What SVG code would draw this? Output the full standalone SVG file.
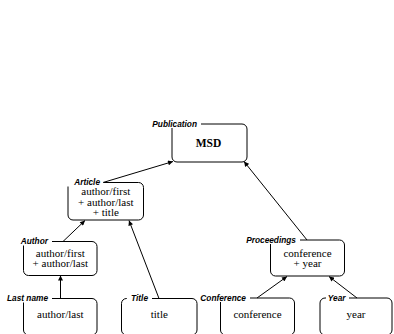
<svg xmlns="http://www.w3.org/2000/svg" width="394" height="334" viewBox="0 0 394 334">
<style>
.box{fill:none;stroke:#000;stroke-width:1}
.lbl{font-family:"Liberation Sans",Arial,sans-serif;font-weight:bold;font-style:italic;font-size:8.3px;text-anchor:end;fill:#000}
.txt{font-family:"Liberation Serif","Times New Roman",serif;font-size:11px;text-anchor:middle;fill:#000}
.bold{font-weight:bold;font-size:11.5px}
.edge{stroke:#000;stroke-width:1;fill:none;marker-end:url(#ah)}
</style>
<defs>
<marker id="ah" viewBox="0 0 10 10" refX="10" refY="5" markerWidth="6" markerHeight="5" markerUnits="userSpaceOnUse" orient="auto">
<path d="M0,0 L10,5 L0,10 z" fill="#000"/>
</marker>
</defs>
<rect width="394" height="334" fill="#fff"/>
<g id="connectors">
<line class="edge" x1="103" y1="182.5" x2="173" y2="161.5"/>
<line class="edge" x1="307" y1="240" x2="244" y2="161.5"/>
<line class="edge" x1="63" y1="241.5" x2="85" y2="220.5"/>
<line class="edge" x1="159" y1="298.5" x2="129" y2="220.5"/>
<line class="edge" x1="60.5" y1="298.5" x2="60.5" y2="275.5"/>
<line class="edge" x1="257" y1="298" x2="287" y2="276.5"/>
<line class="edge" x1="357" y1="298" x2="329" y2="276.5"/>
</g>
<g id="publication">
<path class="box" d="M201,124 H242 A5,5 0 0 1 247,129 V157 A5,5 0 0 1 242,162 H177 A5,5 0 0 1 172,157 V128"/>
<text class="lbl" x="197" y="126.8">Publication</text>
<text class="txt bold" x="208.5" y="147">MSD</text>
</g>
<g id="article">
<path class="box" d="M104,182.5 H138.5 A5,5 0 0 1 143.5,187.5 V215 A5,5 0 0 1 138.5,220 H73 A5,5 0 0 1 68,215 V186.5"/>
<text class="lbl" x="100" y="184.6">Article</text>
<text class="txt" x="105.8" y="195.3">author/first</text>
<text class="txt" x="105.8" y="205.8">+ author/last</text>
<text class="txt" x="105.8" y="216.3">+ title</text>
</g>
<g id="author">
<path class="box" d="M52,241.5 H92 A5,5 0 0 1 97,246.5 V270.5 A5,5 0 0 1 92,275.5 H28.5 A5,5 0 0 1 23.5,270.5 V245.5"/>
<text class="lbl" x="48" y="244.3">Author</text>
<text class="txt" x="60.3" y="256.5">author/first</text>
<text class="txt" x="60.3" y="267">+ author/last</text>
</g>
<g id="lastname">
<path class="box" d="M52,298.5 H92 A5,5 0 0 1 97,303.5 V330 A5,5 0 0 1 92,335 H28.5 A5,5 0 0 1 23.5,330 V302.5"/>
<text class="lbl" x="48" y="301.3">Last name</text>
<text class="txt" x="60.3" y="318">author/last</text>
</g>
<g id="title">
<path class="box" d="M152,298.5 H192 A5,5 0 0 1 197,303.5 V330 A5,5 0 0 1 192,335 H126.5 A5,5 0 0 1 121.5,330 V303.5 A5,5 0 0 1 126.5,298.5 H127"/>
<text class="lbl" x="148" y="301.3">Title</text>
<text class="txt" x="159.3" y="317.5">title</text>
</g>
<g id="proceedings">
<path class="box" d="M300,240 H339.5 A5,5 0 0 1 344.5,245 V271 A5,5 0 0 1 339.5,276 H275.5 A5,5 0 0 1 270.5,271 V244"/>
<text class="lbl" x="296" y="242.8">Proceedings</text>
<text class="txt" x="307.5" y="256.5">conference</text>
<text class="txt" x="307.5" y="267">+ year</text>
</g>
<g id="conference">
<path class="box" d="M250,298 H289.5 A5,5 0 0 1 294.5,303 V330 A5,5 0 0 1 289.5,335 H225.5 A5,5 0 0 1 220.5,330 V302"/>
<text class="lbl" x="246" y="300.8">Conference</text>
<text class="txt" x="257.5" y="317.5">conference</text>
</g>
<g id="year">
<path class="box" d="M349,298 H387 A5,5 0 0 1 392,303 V330 A5,5 0 0 1 387,335 H325 A5,5 0 0 1 320,330 V303 A5,5 0 0 1 325,298 H326"/>
<text class="lbl" x="345.5" y="300.8">Year</text>
<text class="txt" x="356" y="317.5">year</text>
</g>
</svg>
